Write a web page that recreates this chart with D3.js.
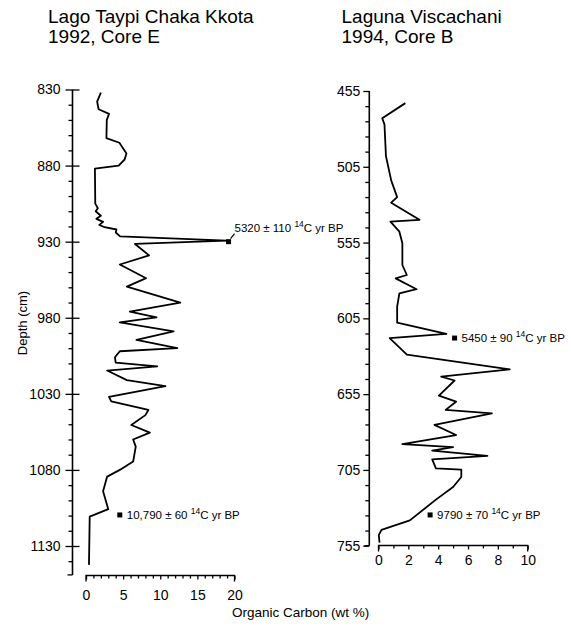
<!DOCTYPE html>
<html>
<head>
<meta charset="utf-8">
<script src="https://cdn.jsdelivr.net/npm/d3@7"></script>
<style>
  body { margin: 0; background: #fff; }
  svg text { font-family: "Liberation Sans", Arial, Helvetica, sans-serif; fill: #000; }
  .axis path, .axis line { stroke: #000; stroke-width: 1.3; }
  .axis text { font-size: 14px; }
</style>
</head>
<body>
<svg id="chart" width="571" height="626"></svg>
<script>
// Lago Taypi Chaka Kkota, 1992, Core E
var leftDepth  = [832, 838, 843, 846, 850, 862, 865, 872, 876, 880, 882, 905, 908, 910, 913, 915, 917, 919, 920.5, 922, 924, 926.5, 929.3, 931.5,
                  939, 945, 954, 959.5, 970, 976, 979.7, 983, 989, 994.6, 1000, 1002, 1006, 1009.5, 1012, 1014.7, 1021, 1025, 1032, 1035,
                  1040.6, 1044, 1050.5, 1055.5, 1060, 1064.7, 1074.5, 1080, 1084.4, 1094, 1105.8, 1110.7, 1142.4];
var leftCarbon = [2.0, 1.5, 1.7, 3.1, 2.8, 2.75, 4.5, 5.45, 5.2, 4.4, 1.2, 1.25, 1.6, 1.3, 2.0, 1.4, 2.3, 1.8, 2.5, 4.1, 4.0, 4.6, 19.0, 6.6,
                  8.5, 4.55, 8.1, 5.5, 12.7, 5.9, 9.5, 4.55, 11.8, 6.8, 12.3, 4.55, 3.9, 4.0, 9.6, 2.85, 5.5, 10.7, 3.1, 3.4,
                  8.4, 8.0, 6.1, 8.6, 6.35, 6.7, 6.35, 4.55, 2.85, 2.3, 3.0, 0.5, 0.4];
var leftDepthTicks  = [830, 880, 930, 980, 1030, 1080, 1130];
var leftCarbonTicks = [0, 5, 10, 15, 20];
var leftDates = [
  {depth: 930, carbon: 19.2, age: "5320 \u00b1 110 "},
  {depth: 1109.6, carbon: 4.55, age: "10,790 \u00b1 60 "}
];

// Laguna Viscachani, 1994, Core B
var rightDepth  = [463, 473, 477, 498, 514, 525, 528.7, 534.6, 540, 541.2, 547.8, 555.5, 569.8, 576.4, 578.6, 585.8, 588.5, 597.3, 607.9,
                   615.3, 618, 629, 638.6, 643.5, 646, 656, 660, 665.4, 667.7, 675.3, 682, 688, 690, 692.3, 695.8, 698, 704, 704.8,
                   709.7, 716.3, 724.6, 738.3, 744.6, 748, 753];
var rightCarbon = [1.8, 0.25, 0.4, 0.5, 0.85, 1.25, 0.85, 1.85, 2.75, 0.8, 1.4, 1.6, 1.6, 1.9, 1.15, 2.55, 1.4, 1.25, 1.25,
                   4.55, 0.75, 1.9, 8.8, 4.2, 5.1, 4.05, 5.2, 4.5, 7.6, 3.75, 5.2, 1.6, 5.0, 3.6, 7.3, 3.6, 3.85, 5.55,
                   5.55, 5.0, 3.85, 2.1, 0.2, 0.02, 0.07];
var rightDepthTicks  = [455, 505, 555, 605, 655, 705, 755];
var rightCarbonTicks = [0, 2, 4, 6, 8, 10];
var rightDates = [
  {depth: 618, carbon: 5.1, age: "5450 \u00b1 90 "},
  {depth: 734.7, carbon: 3.46, age: "9790 \u00b1 70 "}
];

var svg = d3.select("#chart");
var fmt = d3.format("d");

function panel(o) {
  var g = svg.append("g");
  var x = d3.scaleLinear().domain(o.xDomain).range(o.xRange);
  var y = d3.scaleLinear().domain(o.yDomain).range(o.yRange);

  // depth axis: line, minor ticks, major ticks
  g.append("line")
    .attr("x1", o.axisX).attr("x2", o.axisX)
    .attr("y1", y(o.yDomain[0])).attr("y2", y(o.yEnd))
    .attr("stroke", "#000").attr("stroke-width", 1.6);
  g.append("line")
    .attr("x1", o.axisX - 5).attr("x2", o.axisX)
    .attr("y1", y(o.yEnd)).attr("y2", y(o.yEnd))
    .attr("stroke", "#000").attr("stroke-width", 1.3);

  var minor = d3.range(o.yDomain[0], o.yEnd, 10).filter(function(d) { return o.yTicks.indexOf(d) < 0; });
  g.append("g").attr("class", "axis")
    .attr("transform", "translate(" + o.axisX + ",0)")
    .call(d3.axisLeft(y).tickValues(minor).tickSize(4).tickFormat(""))
    .call(function(s) { s.select(".domain").remove(); });

  g.append("g").attr("class", "axis")
    .attr("transform", "translate(" + o.axisX + ",0)")
    .call(d3.axisLeft(y).tickValues(o.yTicks).tickSize(o.majorLeft).tickPadding(o.pad).tickFormat(fmt))
    .call(function(s) { s.select(".domain").remove(); });

  if (o.majorRight > 0) {
    g.append("g").attr("class", "axis")
      .attr("transform", "translate(" + o.axisX + ",0)")
      .call(d3.axisRight(y).tickValues(o.yTicks).tickSize(o.majorRight).tickFormat(""))
      .call(function(s) { s.select(".domain").remove(); });
  }

  // carbon axis
  var xAxisY = o.xAxisY;
  var xminor = d3.range(o.xDomain[0], o.xDomain[1] + 0.001, 1).filter(function(d) { return o.xTicks.indexOf(d) < 0; });
  g.append("g").attr("class", "axis")
    .attr("transform", "translate(0," + xAxisY + ")")
    .call(d3.axisBottom(x).tickValues(xminor).tickSize(3).tickFormat(""))
    .call(function(s) { s.select(".domain").remove(); });
  var xa = g.append("g").attr("class", "axis")
    .attr("transform", "translate(0," + xAxisY + ")")
    .call(d3.axisBottom(x).tickValues(o.xTicks).tickSize(4).tickSizeOuter(0).tickPadding(o.xPad).tickFormat(fmt));
  xa.select(".domain").attr("d", "M" + o.xRange[0] + ",6V0H" + o.xRange[1] + "V6");

  // curve
  var pts = o.depth.map(function(d, i) { return [o.carbon[i], d]; });
  g.append("path")
    .datum(pts)
    .attr("fill", "none")
    .attr("stroke", "#000")
    .attr("stroke-width", 1.8)
    .attr("stroke-linejoin", "round")
    .attr("d", d3.line().x(function(d) { return x(d[0]); }).y(function(d) { return y(d[1]); }));

  // radiocarbon dates
  o.dates.forEach(function(d, i) {
    var px = x(d.carbon), py = y(d.depth);
    g.append("rect").attr("x", px - 2.5).attr("y", py - 2.5).attr("width", 5).attr("height", 5).attr("fill", "#000");
    var tx = px + 7, ty = py + 4;
    if (o.leader && i === 0) {
      g.append("line").attr("x1", px + 2).attr("y1", py - 3).attr("x2", px + 6).attr("y2", py - 8)
        .attr("stroke", "#000").attr("stroke-width", 1.2);
      tx = px + 6; ty = py - 10;
    }
    var t = g.append("text").attr("x", tx).attr("y", ty).style("font-size", "11.5px");
    t.append("tspan").text(d.age);
    t.append("tspan").attr("dy", -5).style("font-size", "8.5px").text("14");
    t.append("tspan").attr("dy", 5).text("C yr BP");
  });
}

panel({
  xDomain: [0, 20], xRange: [86, 234.5],
  yDomain: [830, 1130], yRange: [89.5, 546], yEnd: 1149,
  axisX: 72.5, yTicks: leftDepthTicks, xTicks: leftCarbonTicks,
  majorLeft: 7, majorRight: 7, pad: 5, xAxisY: 575.5, xPad: 11,
  depth: leftDepth, carbon: leftCarbon, dates: leftDates, leader: true
});

panel({
  xDomain: [0, 10], xRange: [378.5, 527.7],
  yDomain: [455, 755], yRange: [91, 545.7], yEnd: 755,
  axisX: 369.3, yTicks: rightDepthTicks, xTicks: rightCarbonTicks,
  majorLeft: 6, majorRight: 0, pad: 3, xAxisY: 545.5, xPad: 6,
  depth: rightDepth, carbon: rightCarbon, dates: rightDates, leader: false
});

// titles
function title(x, lines) {
  lines.forEach(function(s, i) {
    svg.append("text").attr("x", x).attr("y", 23 + i * 19.5).style("font-size", "19px").text(s);
  });
}
title(48, ["Lago Taypi Chaka Kkota", "1992, Core E"]);
title(341.5, ["Laguna Viscachani", "1994, Core B"]);

svg.append("text")
  .attr("transform", "translate(27,323) rotate(-90)")
  .attr("text-anchor", "middle")
  .style("font-size", "13px")
  .text("Depth (cm)");

svg.append("text")
  .attr("x", 232).attr("y", 617)
  .style("font-size", "13.5px")
  .text("Organic Carbon (wt %)");
</script>
</body>
</html>
